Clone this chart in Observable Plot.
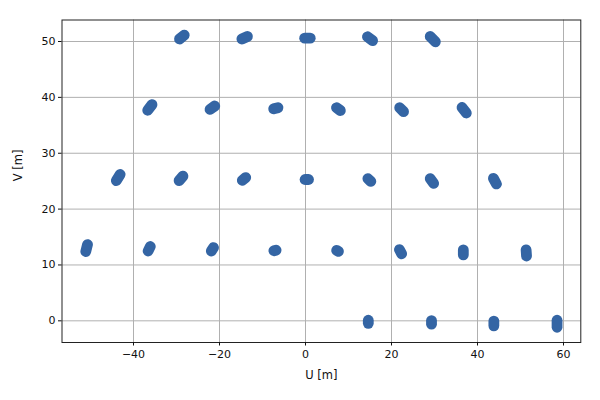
<!DOCTYPE html>
<html>
<head>
<meta charset="utf-8">
<script src="https://cdn.jsdelivr.net/npm/d3@7"></script>
<script src="https://cdn.jsdelivr.net/npm/@observablehq/plot@0.6"></script>
<style>
  html, body { margin: 0; padding: 0; background: #fff; }
  #chart { width: 600px; height: 400px; }
</style>
</head>
<body>
<div id="chart"></div>
<script>
// Each UV cluster: start point (u1, v1) and end point (u2, v2), in metres
const u1 = [-29.3, -14.8, -0.2, 14.4, 29.0,
            -36.7, -22.2, -7.4, 7.2, 21.9, 36.4,
            -44.0, -29.4, -14.7, -0.1, 14.5, 29.0, 43.7,
            -51.1, -36.6, -21.9, -7.35, 7.25, 21.85, 36.7, 51.3,
            14.6, 29.3, 43.8, 58.5];
const v1 = [50.45, 50.45, 50.6, 50.85, 50.9,
            37.7, 37.85, 37.95, 38.15, 38.15, 38.2,
            25.1, 25.1, 25.15, 25.3, 25.45, 25.45, 25.5,
            12.4, 12.5, 12.5, 12.55, 12.6, 12.75, 12.7, 12.7,
            0.1, 0.05, -0.05, 0.1];
const u2 = [-28.2, -13.5, 1.1, 15.6, 30.2,
            -35.7, -21.1, -6.4, 8.1, 22.8, 37.4,
            -43.1, -28.5, -13.9, 0.7, 15.2, 29.8, 44.4,
            -50.7, -36.1, -21.4, -6.85, 7.65, 22.35, 36.7, 51.4,
            14.6, 29.3, 43.8, 58.5];
const v2 = [51.15, 50.9, 50.6, 50.15, 49.95,
            38.7, 38.45, 38.15, 37.65, 37.45, 37.2,
            26.2, 25.9, 25.65, 25.3, 24.95, 24.6, 24.5,
            13.65, 13.3, 13.1, 12.65, 12.45, 12.0, 11.8, 11.6,
            -0.45, -0.6, -0.9, -1.15];

const xTicks = [-40, -20, 0, 20, 40, 60];
const yTicks = [0, 10, 20, 30, 40, 50];
const xLabel = "U [m]";
const yLabel = "V [m]";

const clusters = u1.map((u, i) => ({u1: u, v1: v1[i], u2: u2[i], v2: v2[i]}));

const color = "#3465a4";
const font = "DejaVu Sans, sans-serif";

const chart = Plot.plot({
  width: 600,
  height: 400,
  marginLeft: 61.5,
  marginRight: 19.7,
  marginTop: 19.5,
  marginBottom: 58,
  style: {fontFamily: font, fontSize: "11px", color: "#111", background: "#fff"},
  x: {domain: [-56.63, 64.02]},
  y: {domain: [-3.88, 53.85]},
  marks: [
    Plot.gridX(xTicks, {stroke: "#b0b0b0", strokeOpacity: 1, strokeWidth: 1}),
    Plot.gridY(yTicks, {stroke: "#b0b0b0", strokeOpacity: 1, strokeWidth: 1}),
    Plot.link(clusters, {
      x1: "u1", y1: "v1", x2: "u2", y2: "v2",
      stroke: color, strokeWidth: 10.8, strokeLinecap: "round", strokeOpacity: 1
    }),
    Plot.frame({stroke: "#222", strokeWidth: 1}),
    Plot.axisX({ticks: xTicks, tickSize: 3.5, tickPadding: 4, label: null,
                tickFormat: d => d < 0 ? "\u2212" + Math.abs(d) : String(d), fontSize: 11}),
    Plot.axisY({ticks: yTicks, tickSize: 3.5, tickPadding: 3, label: null, fontSize: 11}),
    Plot.text([xLabel], {frameAnchor: "bottom", dy: 36, fontSize: 11.5, fill: "#111"}),
    Plot.text([yLabel], {frameAnchor: "left", dx: -43.5, rotate: -90, fontSize: 11.5, fill: "#111"})
  ]
});
document.getElementById("chart").appendChild(chart);
</script>
</body>
</html>
